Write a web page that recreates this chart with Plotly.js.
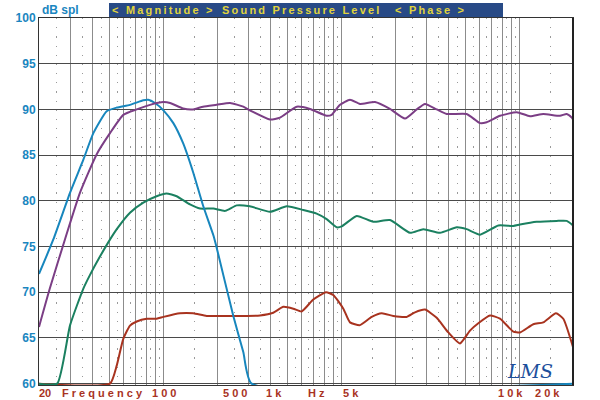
<!DOCTYPE html>
<html>
<head>
<meta charset="utf-8">
<script src="https://cdn.plot.ly/plotly-3.0.1.min.js"></script>
<style>
    html, body { margin: 0; padding: 0; background: #fff; }
    #chart { width: 600px; height: 400px; }
</style>
</head>
<body>
<div id="chart"></div>
<script>
// ============================================================================
// Data (Hz / dB SPL)
// ============================================================================

const freqPurple = [20, 23, 28, 34, 42.2, 50.1, 59.5, 70.8, 84.1, 100, 109, 129, 147, 167, 199, 237, 281, 306,
    397, 452, 561, 666, 826, 881, 982, 1117, 1272, 1545, 1874, 2276, 2648, 2948, 3430, 3903, 5054,
    6008, 6548, 7780, 9660, 11460, 13620, 16900, 18440, 19680, 20000];
const splPurple = [66.2, 70.4, 75.8, 80.9, 85.1, 87.4, 89.4, 90.0, 90.5, 90.8, 90.7, 90.1, 90.0, 90.3, 90.5, 90.7, 90.3, 89.9,
    88.9, 89.1, 90.3, 90.05, 89.3, 89.4, 90.5, 91.06, 90.6, 90.8, 90.05, 89.0, 90.0, 90.6, 90.0, 89.5, 89.5,
    88.5, 88.6, 89.3, 89.7, 89.25, 89.5, 89.3, 89.5, 89.1, 88.9];

const freqBlue = [20, 24.1, 29.9, 35.5, 40.4, 48, 54.7, 64.9, 77.1, 82.2, 89.7, 100, 113.7, 129, 147, 167.5, 191,
    199, 247, 281, 313, 20000];
const splBlue = [72.0, 75.8, 80.9, 84.5, 87.4, 89.8, 90.2, 90.5, 91.0, 91.06, 90.7, 89.9, 88.5, 86.3, 83.1, 79.4, 76.2,
    74.9, 67.4, 63.45, 60, 60];

const freqGreen = [20, 25.3, 29.9, 35.5, 38.7, 44, 48.8, 54.7, 64.9, 77.1, 91.6, 104, 118.7, 141, 160.5, 190.7, 222,
    258, 306, 397, 493, 611, 726, 826, 941, 1004, 1219, 1510, 1874, 2428, 2884, 3580, 4444, 5054, 6008,
    7610, 9238, 10075, 12500, 16180, 18440, 20000];
const splGreen = [60, 60, 66.4, 70.4, 71.9, 73.9, 75.4, 76.9, 78.7, 79.8, 80.5, 80.8, 80.5, 79.6, 79.15, 79.15, 78.9,
    79.5, 79.4, 78.8, 79.4, 79.0, 78.6, 78.0, 77.1, 77.2, 78.35, 77.7, 77.9, 76.5, 76.9, 76.5, 77.1, 76.9, 76.3,
    77.3, 77.25, 77.4, 77.7, 77.8, 77.8, 77.3];

const freqRed = [20, 50.1, 54.7, 59.5, 64.9, 70.8, 80.5, 91.6, 100, 123.9, 147, 175, 227, 294, 349, 414, 472, 537,
    598, 695, 819, 900, 1025, 1117, 1272, 1480, 1684, 1956, 2326, 2590, 2948, 3430, 3986, 4634, 5276,
    5876, 6836, 7780, 9238, 10075, 11970, 13620, 16050, 17640, 20000];
const splRed = [60, 60, 62.0, 64.9, 66.35, 66.8, 67.1, 67.1, 67.3, 67.7, 67.7, 67.4, 67.4, 67.4, 67.45, 67.75, 68.4, 68.2,
    67.9, 69.2, 70.0, 69.7, 68.2, 66.7, 66.4, 67.3, 67.7, 67.4, 67.3, 67.8, 68.1, 67.2, 65.6, 64.4, 65.8,
    66.6, 67.45, 67.1, 65.7, 65.6, 66.5, 66.7, 67.7, 67.1, 64.0];

const majorFreqs = [20, 30, 40, 50, 60, 70, 80, 90, 100, 200, 300, 400, 500, 600, 700, 800, 900,
    1000, 2000, 3000, 4000, 5000, 6000, 7000, 8000, 9000, 10000, 20000];
const minorFreqs = [25, 35, 45, 55, 65, 75, 85, 95, 150, 250, 350, 450, 550, 650, 750, 850, 950,
    1500, 2500, 3500, 4500, 5500, 6500, 7500, 8500, 9500, 15000];
const yTicks = [60, 65, 70, 75, 80, 85, 90, 95, 100];
const freqLabels = ['20', 'F r e q u e n c y', '1 0 0', '5 0 0', '1 k', 'H z', '5 k', '1 0 k', '2 0 k'];
const headerWords = ['< Magnitude >', 'Sound Pressure Level', '< Phase >'];

// ============================================================================
// Chart
// ============================================================================

const PLOT = { left: 39, right: 573, top: 18, bottom: 385 };
const plotW = PLOT.right - PLOT.left;
const plotH = PLOT.bottom - PLOT.top;
const px2x = px => (px - PLOT.left) / plotW;
const px2y = py => (PLOT.bottom - py) / plotH;

// letter-spaced text: thin spaces between letters, wider gaps between words
const THIN = '\u2009';
const spaced = s => s.split(' ').map(w => w.split('').join(THIN)).join(THIN + ' ' + THIN);

function curve(x, y, color) {
    return {
        type: 'scatter',
        mode: 'lines',
        x: x,
        y: y,
        line: { color: color, width: 2, shape: 'spline', smoothing: 0.5 },
        hoverinfo: 'skip',
        showlegend: false
    };
}

const traces = [
    curve(freqRed, splRed, '#a8331f'),
    curve(freqGreen, splGreen, '#1b8060'),
    curve(freqBlue, splBlue, '#1786bd'),
    curve(freqPurple, splPurple, '#7b3e85')
];

// bottom labels sit where the original software put them, not on the ticks
const labelCenters = [45, 102.5, 164, 234.7, 274, 316, 351, 510, 547.5];
const annotations = freqLabels.map((t, i) => ({
    text: t, xref: 'paper', yref: 'paper',
    x: px2x(labelCenters[i]), y: px2y(393),
    xanchor: 'center', yanchor: 'middle', showarrow: false,
    font: { family: 'Liberation Sans, Arial', size: 11, weight: 'bold', color: '#a8331f' }
}));

annotations.push({
    text: 'dB spl', xref: 'paper', yref: 'paper',
    x: px2x(40), y: px2y(10), xanchor: 'left', yanchor: 'middle', showarrow: false,
    font: { family: 'Liberation Sans, Arial', size: 12, weight: 'bold', color: '#1a86c0' }
});

// header words, left edges as in the reference
const headerLeft = [110, 220, 393];
headerWords.forEach((w, i) => annotations.push({
    text: spaced(w), xref: 'paper', yref: 'paper',
    x: px2x(headerLeft[i]), y: px2y(10.5), xanchor: 'left', yanchor: 'middle', showarrow: false,
    font: { family: 'Liberation Sans, Arial', size: 11, weight: 'bold', color: '#e0d43c' }
}));

annotations.push({
    text: 'LMS', xref: 'paper', yref: 'paper',
    x: px2x(530), y: px2y(371), xanchor: 'center', yanchor: 'middle', showarrow: false,
    font: { family: 'DejaVu Serif', size: 19, style: 'italic', color: '#1c4f9c' }
});

const layout = {
    width: 600,
    height: 400,
    paper_bgcolor: '#fff',
    plot_bgcolor: '#fff',
    margin: { l: PLOT.left, r: 600 - PLOT.right, t: PLOT.top, b: 400 - PLOT.bottom },
    showlegend: false,
    xaxis: {
        type: 'log',
        range: [Math.log10(20), Math.log10(20000)],
        tickmode: 'array',
        tickvals: majorFreqs,
        showticklabels: false,
        ticks: '',
        showgrid: true,
        gridcolor: '#8c8c8c',
        gridwidth: 1,
        minor: {
            tickmode: 'array',
            tickvals: minorFreqs,
            showgrid: true,
            gridcolor: '#9a9a9a',
            gridwidth: 1.2,
            griddash: '1.2px,7.975px',
            ticks: ''
        },
        showline: true,
        linecolor: '#333',
        linewidth: 1,
        mirror: true,
        zeroline: false,
        layer: 'below traces',
        fixedrange: true
    },
    yaxis: {
        // a hair below 60 so the curves lying on the floor stay visible
        range: [59.85, 100],
        tickmode: 'array',
        tickvals: yTicks,
        ticks: '',
        showgrid: true,
        gridcolor: '#4a4a4a',
        gridwidth: 1,
        showline: true,
        linecolor: '#333',
        linewidth: 1,
        mirror: true,
        zeroline: false,
        layer: 'below traces',
        tickfont: { family: 'Liberation Sans, Arial', size: 12, weight: 'bold', color: '#1a86c0' },
        fixedrange: true
    },
    shapes: [
        {
            type: 'rect', xref: 'paper', yref: 'paper',
            x0: px2x(109), x1: px2x(503), y0: px2y(17), y1: px2y(3),
            fillcolor: '#284a86', line: { width: 0 }, layer: 'below'
        },
        {
            type: 'line', xref: 'paper', yref: 'paper',
            x0: 1, x1: 1, y0: 0, y1: 1,
            line: { color: '#222', width: 2 }
        }
    ],
    annotations: annotations
};

Plotly.newPlot('chart', traces, layout, { displayModeBar: false, staticPlot: true });
</script>
</body>
</html>
